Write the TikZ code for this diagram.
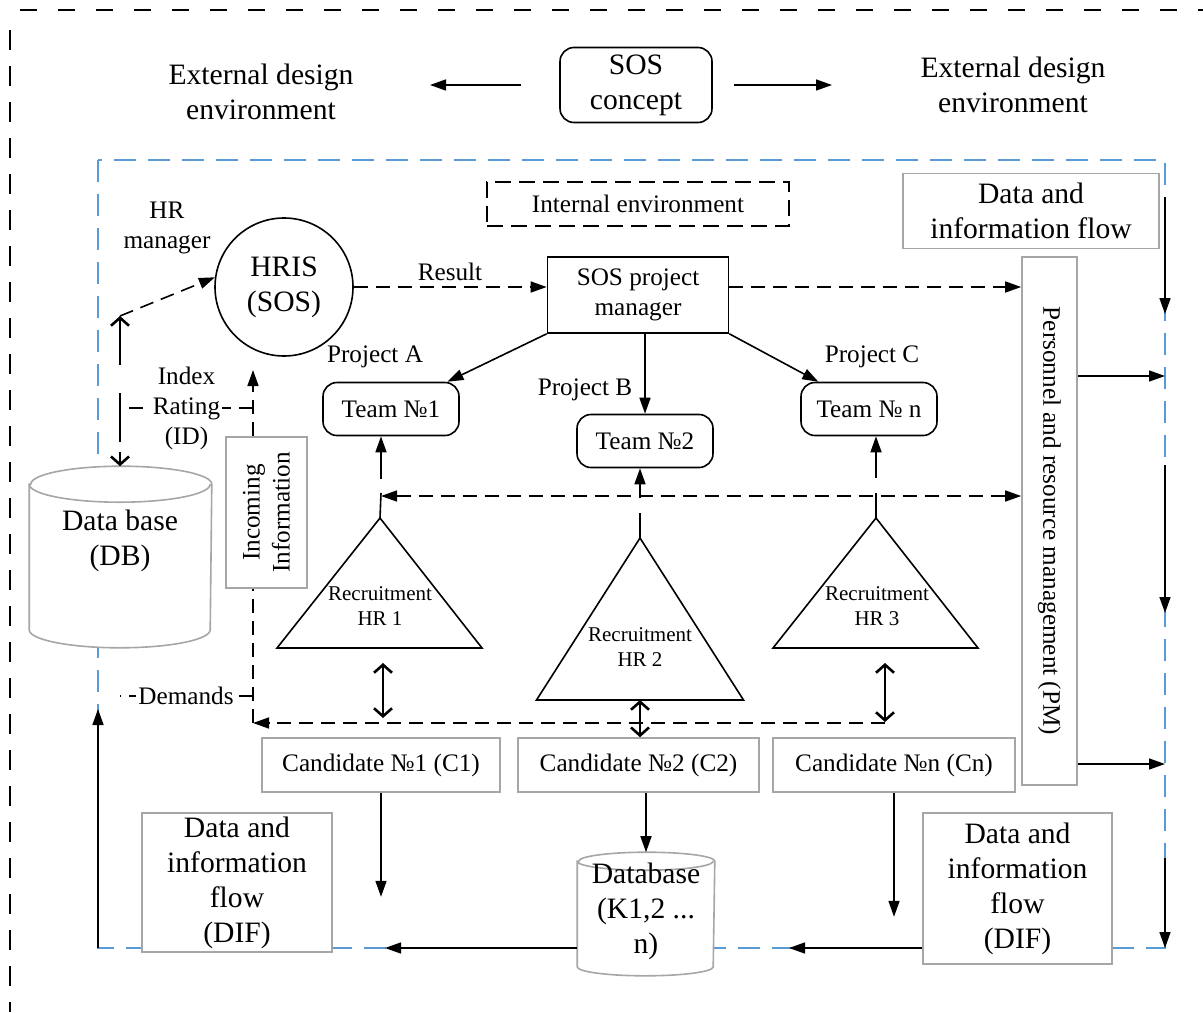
\documentclass[tikz,border=0pt]{standalone}
\usepackage{fontspec}
\setmainfont{Liberation Serif}
\usetikzlibrary{arrows.meta,positioning}
\definecolor{envblue}{RGB}{91,155,213}
\definecolor{boxgray}{RGB}{166,166,166}

\begin{document}
\begin{tikzpicture}[
  x=0.5pt, y=-0.5pt, line width=0.8pt,
  txtbig/.style={font=\fontsize{14.8}{17.5}\selectfont, align=center},
  txtmid/.style={font=\fontsize{12.6}{15}\selectfont, align=center},
  txtsmall/.style={font=\fontsize{10.5}{12.8}\selectfont, align=center},
  rbox/.style={draw, rounded corners=7pt, inner sep=0pt},
  sbox/.style={draw, inner sep=0pt},
  gbox/.style={draw=boxgray, inner sep=0pt},
  dbox/.style={draw, dash pattern=on 8pt off 4pt, inner sep=0pt},
  dline/.style={dash pattern=on 7pt off 4pt},
  arr/.style={-{Triangle[length=8pt,width=5.5pt]}},
  darr/.style={arr, dline},
  ddarr/.style={{Triangle[length=8pt,width=5.5pt]}-{Triangle[length=8pt,width=5.5pt]}, dline},
  barb/.style={line width=1.3pt},
  twoway/.style={barb, {Straight Barb[length=4pt,width=9pt]}-{Straight Barb[length=4pt,width=9pt]}},
  bluedash/.style={draw=envblue, dash pattern=on 11pt off 6pt}
]
\useasboundingbox (0,0) rectangle (1203,1012);
\draw[dash pattern=on 8.5pt off 10.5pt] (20,10) -- (1203,10);
\draw[dash pattern=on 10pt off 8pt] (10,30) -- (10,1012);

\node[rbox, txtbig, minimum width=76pt, minimum height=37.5pt] (concept) at (636,85) {SOS\\concept};
\node[txtbig] (extl) at (261,92) {External design\\environment};
\node[txtbig] (extr) at (1013,85) {External design\\environment};
\coordinate (extlend) at (430,85);
\coordinate (extrend) at (832,85);
\draw[arr, shorten <=19pt] (concept.west) -- (extlend);
\draw[arr, shorten <=10.5pt] (concept.east) -- (extrend);

\draw[bluedash] (98,160) rectangle (1165,948);
\node[dbox, txtmid, minimum width=151pt, minimum height=22pt] (intenv) at (638,204) {Internal environment};
\node[gbox, txtbig, minimum width=128pt, minimum height=37.5pt] (diftop) at (1031,211) {Data and\\information flow};

\node[txtmid] (hrman) at (167,228) {HR\\manager};
\node[circle, draw, txtbig, minimum size=69pt, inner sep=0pt] (hris) at (284,287) {HRIS\\(SOS)};
\node[sbox, txtmid, minimum width=90.5pt, minimum height=38pt] (sospm) at (638,295) {SOS project\\manager};
\node[txtmid] (result) at (450,272) {Result};

\node[rbox, txtmid, minimum width=68pt, minimum height=26.5pt] (team1) at (391,409) {Team №1};
\node[rbox, txtmid, minimum width=68pt, minimum height=26.5pt] (team2) at (645,441) {Team №2};
\node[rbox, txtmid, minimum width=68pt, minimum height=26.5pt] (teamn) at (869,409) {Team № n};
\node[txtmid] (proja) at (375,357) {Project A};
\node[txtmid] (projb) at (585,390) {Project B};
\node[txtmid] (projc) at (872,357) {Project C};

\node[gbox, txtmid, rotate=-90, minimum width=264pt, minimum height=27.5pt] (prm) at (1049.5,521) {Personnel and resource management (PM)};
\node[gbox, txtmid, rotate=90, minimum width=75.5pt, minimum height=40.5pt] (incinfo) at (266.5,512.5) {Incoming\\Information};

\node[minimum width=90.5pt, minimum height=90pt, inner sep=0pt] (dbcyl) at (120.5,557) {};
\draw[draw=boxgray, fill=white] ([yshift=-9pt]dbcyl.north west) -- ([yshift=9pt]dbcyl.south west)
  arc[start angle=180, end angle=360, x radius=45.25pt, y radius=9pt] -- ([yshift=-9pt]dbcyl.north east)
  arc[start angle=0, end angle=180, x radius=45.25pt, y radius=9pt] -- cycle;
\draw[draw=boxgray] ([yshift=-9pt]dbcyl.north west) arc[start angle=180, end angle=360, x radius=45.25pt, y radius=9pt];
\node[txtbig] (db) at (120,541) {Data base\\(DB)};

\node[minimum width=68pt, minimum height=61pt, inner sep=0pt] (dbk) at (646,914) {};
\draw[draw=boxgray, fill=white] ([yshift=-4.5pt]dbk.north west) -- ([yshift=4.5pt]dbk.south west)
  arc[start angle=180, end angle=360, x radius=34pt, y radius=4.5pt] -- ([yshift=-4.5pt]dbk.north east)
  arc[start angle=0, end angle=180, x radius=34pt, y radius=4.5pt] -- cycle;
\draw[draw=boxgray] ([yshift=-4.5pt]dbk.north west) arc[start angle=180, end angle=360, x radius=34pt, y radius=4.5pt];
\node[txtbig] (dbktxt) at (646,911) {Database\\(K1,2 ...\\n)};

\node[gbox, txtmid, minimum width=119pt, minimum height=27pt] (cand1) at (381,765) {Candidate №1 (C1)};
\node[gbox, txtmid, minimum width=120.5pt, minimum height=27pt] (cand2) at (638.5,765) {Candidate №2 (C2)};
\node[gbox, txtmid, minimum width=121pt, minimum height=27pt] (candn) at (894,765) {Candidate №n (Cn)};
\node[gbox, txtbig, fill=white, minimum width=95pt, minimum height=69.5pt] (difl) at (237,882.5) {Data and\\information\\flow\\(DIF)};
\node[gbox, txtbig, fill=white, minimum width=94.5pt, minimum height=75.5pt] (difr) at (1017.5,888.5) {Data and\\information\\flow\\(DIF)};

\coordinate (apx1) at (380,518);
\coordinate (apx2) at (640,538);
\coordinate (apx3) at (876,518);
\draw (apx1) -- ++(-51.5pt,-65pt) -- ++(102.5pt,0) -- cycle;
\draw (apx2) -- ++(-51.75pt,-81pt) -- ++(103.5pt,0) -- cycle;
\draw (apx3) -- ++(-51.5pt,-65pt) -- ++(102.5pt,0) -- cycle;
\node[txtsmall] (hr1) at (380,606) {Recruitment\\HR 1};
\node[txtsmall] (hr2) at (640,647) {Recruitment\\HR 2};
\node[txtsmall] (hr3) at (877,606) {Recruitment\\HR 3};

\draw[darr] (hris.east) -- (hris.east -| sospm.west);
\draw[darr] (sospm.east |- hris.east) -- (prm.south |- hris.east);
\draw[arr] (sospm.south west) -- (team1);
\draw[arr] (sospm.south -| team2.north) -- (team2.north);
\draw[arr] (sospm.south east) -- (teamn);

\coordinate (x1) at (381,496);
\coordinate (x2) at (640,496);
\coordinate (x3) at (876,496);
\draw (apx1) -- ([yshift=1.5pt]x1);
\draw[arr] ([yshift=8.5pt]x1) -- (x1 |- team1.south);
\draw (apx2) -- ([yshift=-8.5pt]x2);
\draw[arr] ([yshift=-1pt]x2) -- (x2 |- team2.south);
\draw (apx3) -- ([yshift=1.5pt]x3);
\draw[arr] ([yshift=9pt]x3) -- (x3 |- teamn.south);
\draw[ddarr] (x1) -- (x1 -| prm.south);

\coordinate (b1) at (383,663);
\coordinate (b2) at (640,700);
\coordinate (b3) at (885,663);
\draw[twoway] (b1) -- ++(0,-27.5pt);
\draw[twoway] (b2) -- (b2 |- cand2.north);
\draw[twoway] (b3) -- ++(0,-29.5pt);

\coordinate (dlr) at (885,723);
\coordinate (dll) at (253,723);
\coordinate (inctip) at (253,370);
\coordinate (idl) at (120,408);
\coordinate (dml) at (120,696);
\draw[darr] (dlr) -- (dll);
\draw[dline] (dll) -- (dll |- incinfo.west);
\draw[darr] (inctip |- incinfo.east) -- (inctip);
\draw[dline] (inctip |- idl) -- (idl);
\node[txtmid, fill=white, inner sep=1pt] (idx) at (186.5,408) {Index\\Rating\\(ID)};
\draw[dline] (dll |- dml) -- (dml);
\node[txtmid, fill=white, inner sep=1pt] (dem) at (186,696) {Demands};

\coordinate (hrtop) at (120,316);
\draw[barb, {Straight Barb[length=4pt,width=9pt]}-] (hrtop) -- ++(0,-24.5pt);
\draw[barb] ([yshift=-38.5pt]hrtop) -- ([yshift=-63pt]hrtop);
\draw[barb, -{Straight Barb[length=4pt,width=9pt]}] ([yshift=-68pt]hrtop) -- (hrtop |- dbcyl.north);
\draw[darr] (hrtop) -- (hris.172);

\coordinate (r0) at (1165,197);
\coordinate (r0e) at (1165,314);
\coordinate (r1) at (1165,376);
\coordinate (r2) at (1165,465);
\coordinate (r2e) at (1165,613);
\coordinate (r3) at (1165,764);
\coordinate (r4) at (1165,858);
\coordinate (r4e) at (1165,948);
\draw[arr] (r0) -- (r0e);
\draw[arr] (prm.north |- r1) -- (r1);
\draw[arr] (r2) -- (r2e);
\draw[arr] (prm.north |- r3) -- (r3);
\draw[arr] (r4) -- (r4e);

\coordinate (bl) at (98,948);
\coordinate (bltip) at (98,709);
\coordinate (btip1) at (385,948);
\coordinate (btip2) at (789,948);
\draw[arr] (bl) -- (bltip);
\draw[arr] (dbk.west |- bl) -- (btip1);
\draw[arr] (difr.west |- bl) -- (btip2);

\draw[arr] (cand1.south) -- ++(0,-52pt);
\draw[arr] (cand2.south -| dbk.north) -- (dbk.north);
\draw[arr] (candn.south) -- ++(0,-62pt);
\end{tikzpicture}
\end{document}
